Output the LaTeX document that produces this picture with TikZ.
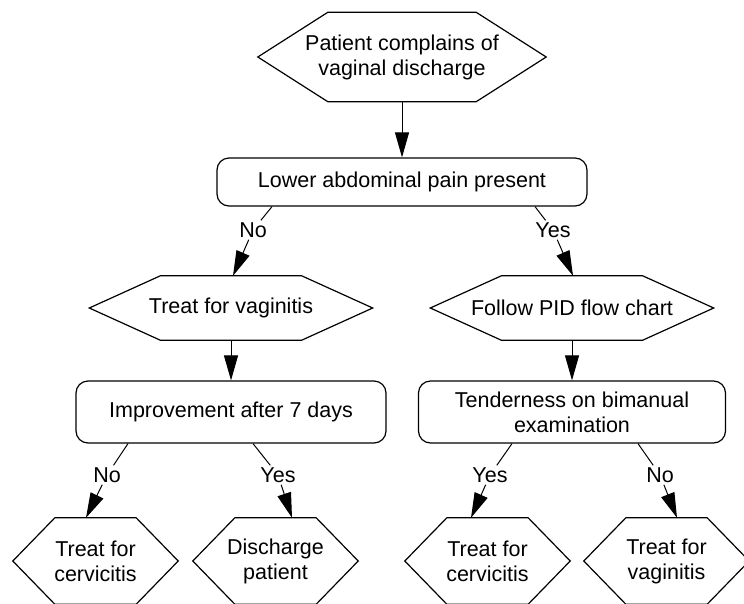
\documentclass[tikz,border=0pt]{standalone}
\usepackage{fontspec}
\setmainfont{Liberation Sans}
\usetikzlibrary{arrows.meta}

\tikzset{
	box/.style={draw, rounded corners=12pt, line width=1.2pt, align=center, inner sep=0pt},
	hexbox/.style={align=center, inner sep=0pt},
	answer/.style={inner sep=2pt},
	link/.style={line width=1pt},
	flow/.style={line width=1pt, -{Triangle[length=25pt,width=14pt]}}
}
\newcommand\hexframe[2]{%
	\draw [line width=1.2pt] (#1.west) -- ([xshift=#2]#1.north west) -- ([xshift=-#2]#1.north east)
	-- (#1.east) -- ([xshift=-#2]#1.south east) -- ([xshift=#2]#1.south west) -- cycle;}

\begin{document}
\begin{tikzpicture}[x=1pt, y=-1pt, font=\fontsize{21.5}{25}\selectfont]
	\useasboundingbox (0,0) rectangle (744,603);
	
	\node [hexbox, minimum width=288pt, minimum height=89pt] (start) at (402,57) {Patient complains of\\vaginal discharge};
	\hexframe{start}{70pt}
	\node [box, minimum width=370pt, minimum height=48pt] (pain) at (402,182) {Lower abdominal pain present};
	\draw [flow] (start) -- (pain);
	
	\def\hw{283pt}
	\def\hh{64pt}
	\node [hexbox, minimum width=\hw, minimum height=\hh] (vag) at (231,308) {Treat for vaginitis};
	\hexframe{vag}{71pt}
	\node [hexbox, minimum width=\hw, minimum height=\hh] (pid) at (572,308) {Follow PID flow chart};
	\hexframe{pid}{71pt}
	
	\node [answer] (painno) at (253,230) {No};
	\draw [link] ([xshift=-130pt]pain.south) -- (painno);
	\draw [flow] (painno) -- ([xshift=2pt]vag.north);
	\node [answer] (painyes) at (553,230) {Yes};
	\draw [link] ([xshift=133pt]pain.south) -- (painyes);
	\draw [flow] (painyes) -- ([xshift=1pt]pid.north);
	
	\node [box, minimum width=310pt, minimum height=62pt] (impr) at (231,412) {Improvement after 7 days};
	\node [box, minimum width=307pt, minimum height=62pt] (tend) at (572,412) {Tenderness on bimanual\\examination};
	\draw [flow] (vag) -- (impr);
	\draw [flow] (pid) -- (tend);
	
	\def\bw{165pt}
	\def\bh{86pt}
	\node [hexbox, minimum width=\bw, minimum height=\bh] (cervleft) at (95.5,561) {Treat for\\cervicitis};
	\hexframe{cervleft}{42pt}
	\node [hexbox, minimum width=\bw, minimum height=\bh] (disch) at (275.5,561) {Discharge\\patient};
	\hexframe{disch}{42pt}
	\node [hexbox, minimum width=\bw, minimum height=\bh] (cervright) at (487.5,561) {Treat for\\cervicitis};
	\hexframe{cervright}{42pt}
	\node [hexbox, minimum width=\bw, minimum height=\bh] (vagright) at (666.5,561) {Treat for\\vaginitis};
	\hexframe{vagright}{42pt}
	
	\node [answer] (imprno) at (107,475) {No};
	\draw [link] ([xshift=-103pt]impr.south) -- (imprno);
	\draw [flow] (imprno) -- ([xshift=-9.5pt]cervleft.north);
	\node [answer] (impryes) at (278,475) {Yes};
	\draw [link] ([xshift=22pt]impr.south) -- (impryes);
	\draw [flow] (impryes) -- ([xshift=16.5pt]disch.north);
	
	\node [answer] (tendyes) at (490,475) {Yes};
	\draw [link] ([xshift=-60pt]tend.south) -- (tendyes);
	\draw [flow] (tendyes) -- ([xshift=-16.5pt]cervright.north);
	\node [answer] (tendno) at (660,475) {No};
	\draw [link] ([xshift=66pt]tend.south) -- (tendno);
	\draw [flow] (tendno) -- ([xshift=10.5pt]vagright.north);
\end{tikzpicture}
\end{document}
